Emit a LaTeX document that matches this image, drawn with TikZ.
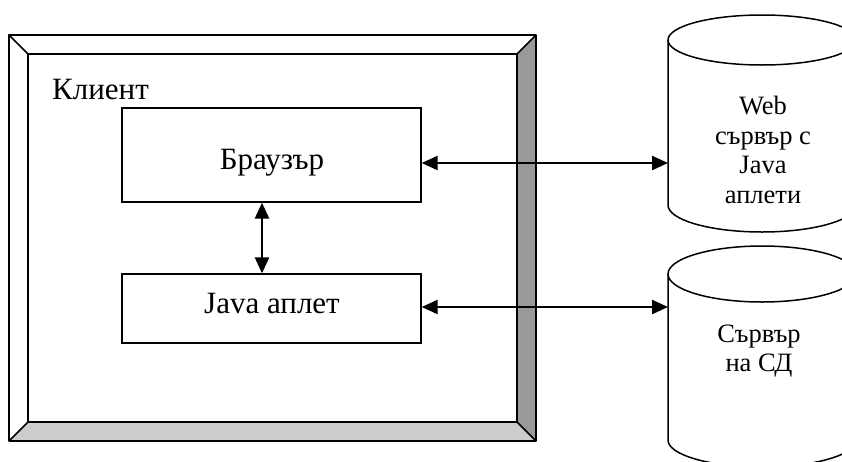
\documentclass[tikz,border=0pt]{standalone}
\usepackage{fontspec}
\setmainfont{Liberation Serif}
\usetikzlibrary{arrows.meta}
\begin{document}
\begin{tikzpicture}[x=1pt,y=-1pt,
  bigtext/.style={font=\fontsize{31}{36}\selectfont},
  cyltext/.style={font=\fontsize{26.5}{29.5}\selectfont, align=center, inner sep=0pt},
  blockbox/.style={draw, line width=1.3pt, fill=white, inner sep=0pt},
  conn/.style={line width=2.4pt, {Triangle[length=16pt,width=14pt]}-{Triangle[length=16pt,width=14pt]}},
  edge line/.style={line width=1.5pt, line join=round}
]
\useasboundingbox (0,0) rectangle (842,461);
\clip (0,0) rectangle (842,461);

% bevelled client frame
\fill[black!40] (536,35) -- (536,441) -- (517,422) -- (517,54) -- cycle;
\fill[black!20] (9,441) -- (536,441) -- (517,422) -- (28,422) -- cycle;
\draw[edge line] (9,35) rectangle (536,441);
\draw[edge line] (28,54) rectangle (517,422);
\draw[edge line] (9,35) -- (28,54) (536,35) -- (517,54)
                 (9,441) -- (28,422) (536,441) -- (517,422);
\node[bigtext, anchor=base west, inner sep=0pt] (client) at (52,99) {Клиент};

% client components
\node[blockbox, minimum width=299pt, minimum height=94pt] (browser) at (271.5,155) {};
\node[bigtext, anchor=base, inner sep=0pt] (browserlabel) at (272,169) {Браузър};
\node[blockbox, minimum width=299pt, minimum height=69pt] (applet) at (271.5,308.5) {};
\node[bigtext, anchor=base, inner sep=0pt] (appletlabel) at (272,313) {Java аплет};

% server cylinders
\draw[edge line, fill=white] (668,40) -- (668,205)
  arc[start angle=180, end angle=0, x radius=94, y radius=27] -- (856,40);
\draw[edge line] (762,40) ellipse[x radius=94, y radius=25];
\node[cyltext] (web) at (763,150) {Web\\сървър с\\Java\\аплети};
\coordinate (webin) at (668,163);

\draw[edge line, fill=white] (668,274) -- (668,440)
  arc[start angle=180, end angle=0, x radius=94, y radius=27] -- (856,274);
\draw[edge line] (762,274) ellipse[x radius=94, y radius=28];
\node[cyltext] (db) at (759,351) {Сървър\\на СД};
\coordinate (dbin) at (668,307);

% connectors
\draw[conn] (browser.east |- webin) -- (webin);
\draw[conn] (applet.east |- dbin) -- (dbin);
\draw[conn] ([xshift=-9.5pt]browser.south) -- ([xshift=-9.5pt]applet.north);
\end{tikzpicture}
\end{document}
